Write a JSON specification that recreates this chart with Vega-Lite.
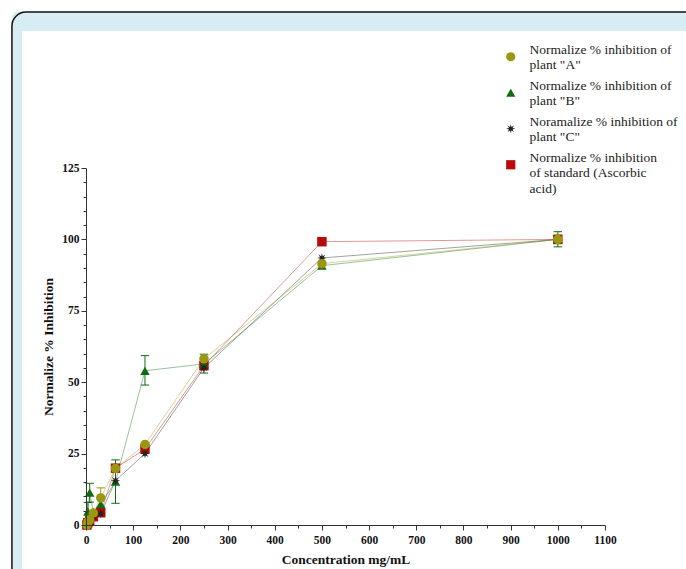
{
  "$schema": "https://vega.github.io/schema/vega-lite/v6.json",
  "width": 519,
  "height": 357,
  "autosize": {"type": "none"},
  "padding": {"left": 86, "top": 168, "right": 81, "bottom": 44},
  "background": "white",
  "config": {
    "view": {"stroke": null},
    "font": "Liberation Serif",
    "axis": {"zindex": 1},
    "legend": {
      "labelFont": "Liberation Serif",
      "labelFontSize": 13.5,
      "labelColor": "#222",
      "labelLimit": 260,
      "labelBaseline": "bottom",
      "symbolSize": 85,
      "rowPadding": 6,
      "labelOffset": 12,
      "padding": 0,
      "zindex": 1
    }
  },
  "datasets": {
    "pts": [
      {"s": "S", "c": 1.95, "v": 0},
      {"s": "S", "c": 3.9, "v": 0.8},
      {"s": "S", "c": 7.8, "v": 1.6},
      {"s": "S", "c": 15.6, "v": 2.9},
      {"s": "S", "c": 31.25, "v": 4.3},
      {"s": "S", "c": 62.5, "v": 19.9},
      {"s": "S", "c": 125, "v": 26.6},
      {"s": "S", "c": 250, "v": 55.8},
      {"s": "S", "c": 500, "v": 99.2},
      {"s": "S", "c": 1000, "v": 100},
      {"s": "B", "c": 1.95, "v": 0.3},
      {"s": "B", "c": 3.9, "v": 4.7, "lo": 1.5, "hi": 7.9},
      {"s": "B", "c": 7.8, "v": 11.3, "lo": 8.0, "hi": 14.6},
      {"s": "B", "c": 15.6, "v": 4.5},
      {"s": "B", "c": 31.25, "v": 7.3},
      {"s": "B", "c": 62.5, "v": 15.2, "lo": 7.6, "hi": 22.8},
      {"s": "B", "c": 125, "v": 54.0, "lo": 49.0, "hi": 59.3},
      {"s": "B", "c": 250, "v": 56.4, "lo": 53.2, "hi": 59.8},
      {"s": "B", "c": 500, "v": 90.8},
      {"s": "B", "c": 1000, "v": 100, "lo": 97.4, "hi": 102.7},
      {"s": "C", "c": 1.95, "v": 0},
      {"s": "C", "c": 3.9, "v": 0.5},
      {"s": "C", "c": 7.8, "v": 1.2},
      {"s": "C", "c": 15.6, "v": 2.8},
      {"s": "C", "c": 31.25, "v": 4.0},
      {"s": "C", "c": 62.5, "v": 15.5},
      {"s": "C", "c": 125, "v": 25.0},
      {"s": "C", "c": 250, "v": 55.0},
      {"s": "C", "c": 500, "v": 93.5},
      {"s": "C", "c": 1000, "v": 100},
      {"s": "A", "c": 1.95, "v": 0},
      {"s": "A", "c": 3.9, "v": 1.0},
      {"s": "A", "c": 7.8, "v": 1.8},
      {"s": "A", "c": 15.6, "v": 4.2},
      {"s": "A", "c": 31.25, "v": 9.5, "lo": 6.0, "hi": 13.0},
      {"s": "A", "c": 62.5, "v": 19.8},
      {"s": "A", "c": 125, "v": 28.2},
      {"s": "A", "c": 250, "v": 58.2},
      {"s": "A", "c": 500, "v": 91.5},
      {"s": "A", "c": 1000, "v": 100, "lo": 98.5, "hi": 101.5}
    ]
  },
  "data": {"name": "pts"},
  "resolve": {"axis": {"x": "independent", "y": "independent"}},
  "layer": [
    {
      "data": {"values": [{}]},
      "mark": {"type": "rect", "fill": "#d8edf3", "cornerRadiusTopLeft": 14, "clip": false},
      "encoding": {
        "x": {"datum": -157, "type": "quantitative", "scale": {"domain": [0, 1100], "nice": false}, "axis": null},
        "x2": {"datum": 1330},
        "y": {"datum": 179.6, "type": "quantitative", "scale": {"domain": [0, 125], "nice": false}, "axis": null},
        "y2": {"datum": 173}
      }
    },
    {
      "data": {"values": [{}]},
      "mark": {"type": "rect", "fill": "#d8edf3", "cornerRadiusTopLeft": 14, "clip": false},
      "encoding": {
        "x": {"datum": -157, "type": "quantitative", "scale": {"domain": [0, 1100], "nice": false}, "axis": null},
        "x2": {"datum": -135.6},
        "y": {"datum": 179.6, "type": "quantitative", "scale": {"domain": [0, 125], "nice": false}, "axis": null},
        "y2": {"datum": -30}
      }
    },
    {
      "data": {"values": [{}]},
      "mark": {"type": "rect", "fill": null, "fillOpacity": 0, "stroke": "#111", "strokeWidth": 1.5, "cornerRadius": 14, "clip": false},
      "encoding": {
        "x": {"datum": -157, "type": "quantitative", "scale": {"domain": [0, 1100], "nice": false}, "axis": null},
        "x2": {"datum": 1330},
        "y": {"datum": 179.6, "type": "quantitative", "scale": {"domain": [0, 125], "nice": false}, "axis": null},
        "y2": {"datum": -30}
      }
    },
    {
      "mark": {"type": "line", "strokeWidth": 1, "opacity": 0.42},
      "encoding": {
        "x": {"field": "c", "type": "quantitative", "scale": {"domain": [0, 1100], "nice": false},
          "axis": {"orient": "bottom", "values": [0, 50, 100, 150, 200, 250, 300, 350, 400, 450, 500, 550, 600, 650, 700, 750, 800, 850, 900, 950, 1000, 1050, 1100],
            "labelExpr": "datum.value % 100 == 0 ? datum.value : ''",
            "tickSize": {"condition": {"test": "datum.value % 100 == 0", "value": 5}, "value": 3},
            "title": "Concentration mg/mL",
            "grid": false, "domainColor": "#333", "tickColor": "#333", "labelFont": "Liberation Serif",
            "labelFontWeight": "bold", "labelFontSize": 11.5, "labelColor": "#111", "labelPadding": 4, "labelFlush": false, "labelOverlap": false,
            "titleFont": "Liberation Serif", "titleFontWeight": "bold", "titleFontSize": 13.5, "titleColor": "#111", "titlePadding": 7, "zindex": 1}},
        "y": {"field": "v", "type": "quantitative", "scale": {"domain": [0, 125], "nice": false},
          "axis": {"orient": "left", "values": [0, 5, 10, 15, 20, 25, 30, 35, 40, 45, 50, 55, 60, 65, 70, 75, 80, 85, 90, 95, 100, 105, 110, 115, 120, 125],
            "labelExpr": "datum.value % 25 == 0 ? datum.value : ''",
            "tickSize": {"condition": {"test": "datum.value % 25 == 0", "value": 5}, "value": 3},
            "title": "Normalize % Inhibition",
            "grid": false, "domainColor": "#333", "tickColor": "#333", "labelFont": "Liberation Serif",
            "labelFontWeight": "bold", "labelFontSize": 11.5, "labelColor": "#111", "labelPadding": 2, "labelFlush": false, "labelOverlap": false,
            "titleFont": "Liberation Serif", "titleFontWeight": "bold", "titleFontSize": 13.5, "titleColor": "#111", "titlePadding": 6, "zindex": 1}},
        "stroke": {"field": "s", "type": "nominal", "scale": {"domain": ["S", "C", "B", "A"], "range": ["#b80a0a", "#222222", "#116b11", "#9a9810"]}, "legend": null},
        "order": {"field": "c", "type": "quantitative"}
      }
    },
    {
      "transform": [{"filter": "isValid(datum.lo)"}],
      "mark": {"type": "rule", "strokeWidth": 1},
      "encoding": {
        "x": {"field": "c", "type": "quantitative", "scale": {"domain": [0, 1100], "nice": false}, "axis": null},
        "y": {"field": "lo", "type": "quantitative", "scale": {"domain": [0, 125], "nice": false}, "axis": null},
        "y2": {"field": "hi"},
        "stroke": {"field": "s", "type": "nominal", "scale": {"domain": ["S", "C", "B", "A"], "range": ["#b80a0a", "#222222", "#116b11", "#9a9810"]}, "legend": null}
      }
    },
    {
      "transform": [{"filter": "isValid(datum.lo)"}],
      "mark": {"type": "point", "shape": "M-1,0L1,0", "filled": false, "strokeWidth": 1, "size": 70, "opacity": 1},
      "encoding": {
        "x": {"field": "c", "type": "quantitative", "scale": {"domain": [0, 1100], "nice": false}, "axis": null},
        "y": {"field": "lo", "type": "quantitative", "scale": {"domain": [0, 125], "nice": false}, "axis": null},
        "stroke": {"field": "s", "type": "nominal", "scale": {"domain": ["S", "C", "B", "A"], "range": ["#b80a0a", "#222222", "#116b11", "#9a9810"]}, "legend": null}
      }
    },
    {
      "transform": [{"filter": "isValid(datum.hi)"}],
      "mark": {"type": "point", "shape": "M-1,0L1,0", "filled": false, "strokeWidth": 1, "size": 70, "opacity": 1},
      "encoding": {
        "x": {"field": "c", "type": "quantitative", "scale": {"domain": [0, 1100], "nice": false}, "axis": null},
        "y": {"field": "hi", "type": "quantitative", "scale": {"domain": [0, 125], "nice": false}, "axis": null},
        "stroke": {"field": "s", "type": "nominal", "scale": {"domain": ["S", "C", "B", "A"], "range": ["#b80a0a", "#222222", "#116b11", "#9a9810"]}, "legend": null}
      }
    },
    {
      "mark": {"type": "point", "filled": true, "size": 90, "opacity": 1},
      "encoding": {
        "x": {"field": "c", "type": "quantitative", "scale": {"domain": [0, 1100], "nice": false}, "axis": null},
        "y": {"field": "v", "type": "quantitative", "scale": {"domain": [0, 125], "nice": false}, "axis": null},
        "color": {"field": "s", "type": "nominal", "scale": {"domain": ["A", "B", "C", "S"], "range": ["#9a9810", "#116b11", "#222222", "#b80a0a"]},
          "legend": {"title": null, "orient": "none", "legendX": 418, "legendY": -118, "zindex": 1,
            "labelExpr": "datum.value == 'A' ? ['Normalize % inhibition of', 'plant \"A\"'] : datum.value == 'B' ? ['Normalize % inhibition of', 'plant \"B\"'] : datum.value == 'C' ? ['Noramalize % inhibition of', 'plant \"C\"'] : ['Normalize % inhibition', 'of standard (Ascorbic', 'acid)']"}},
        "shape": {"field": "s", "type": "nominal", "scale": {"domain": ["A", "B", "C", "S"], "range": ["circle", "triangle-up", "M1,0L0.38,0.16L0.71,0.71L0.16,0.38L0,1L-0.16,0.38L-0.71,0.71L-0.38,0.16L-1,0L-0.38,-0.16L-0.71,-0.71L-0.16,-0.38L0,-1L0.16,-0.38L0.71,-0.71L0.38,-0.16Z", "square"]},
          "legend": {"title": null, "orient": "none", "legendX": 418, "legendY": -118, "zindex": 1,
            "labelExpr": "datum.value == 'A' ? ['Normalize % inhibition of', 'plant \"A\"'] : datum.value == 'B' ? ['Normalize % inhibition of', 'plant \"B\"'] : datum.value == 'C' ? ['Noramalize % inhibition of', 'plant \"C\"'] : ['Normalize % inhibition', 'of standard (Ascorbic', 'acid)']"}}
      }
    }
  ]
}
